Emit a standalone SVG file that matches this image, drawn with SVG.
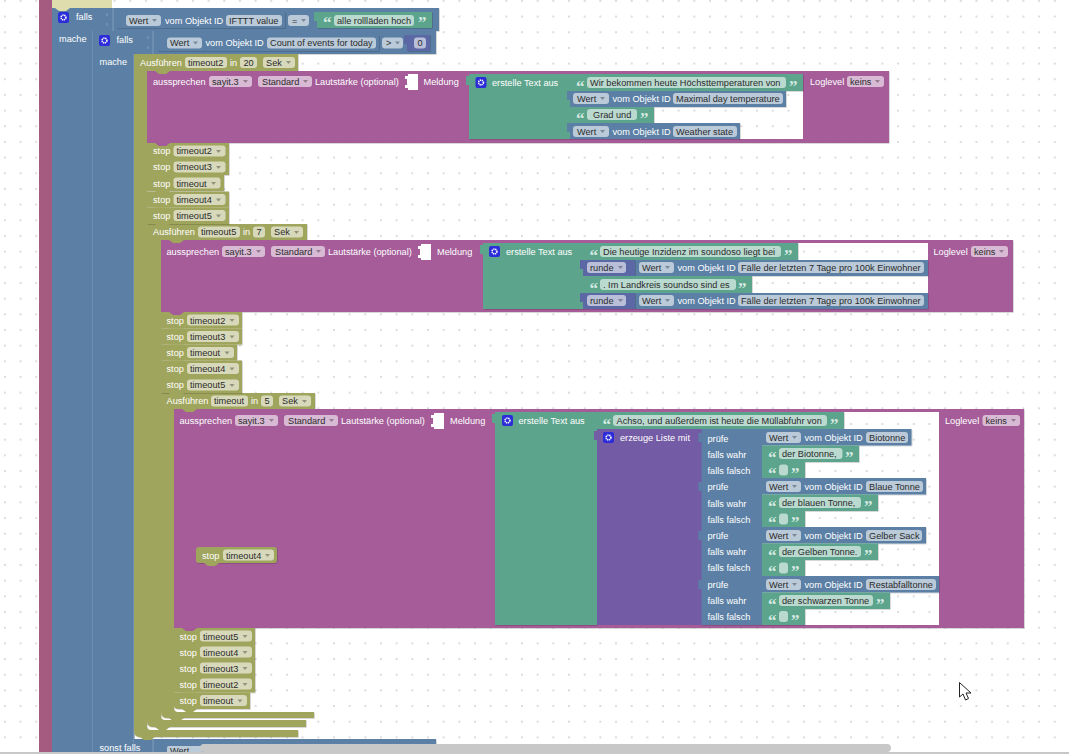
<svg xmlns="http://www.w3.org/2000/svg" width="1069" height="754" viewBox="0 0 1069 754">
<style>
text{font-family:"Liberation Sans",Arial,sans-serif;font-size:9.2px}
.t{fill:#fff}
.d{fill:#2b2b2b}
.q{font-family:"Liberation Serif",serif;font-size:17px;font-weight:bold;fill:#d6e9e2}
.f{fill:#fff;fill-opacity:.58}
.bl{fill:#5b80a5;filter:url(#e)}
.gr{fill:#5ba58c;filter:url(#e)}
.ol{fill:#9fa55b;filter:url(#e)}
.pk{fill:#a55b99;filter:url(#e)}
.nu{fill:#5b67a5;filter:url(#e)}
.li{fill:#745ba5}
.ln{stroke:#7f9dbc;stroke-width:1;fill:none}
.ar{fill:#000;fill-opacity:.32}
.ic{fill:#2c2cd8}
.gc{fill:none;stroke:#fff;stroke-width:1.6;stroke-dasharray:1.2 .6}
</style>
<defs>
<pattern id="g" x="3.9" y="-.1" width="15.67" height="15.67" patternUnits="userSpaceOnUse"><rect width="2" height="2" fill="#dcdcdc"/></pattern>
<filter id="e" x="-2%" y="-5%" width="104%" height="110%"><feDropShadow dx=".7" dy=".7" stdDeviation="0" flood-color="#000" flood-opacity=".22"/></filter>
<path id="a" d="M0 0h5l-2.500 3z"/>
<path id="n" d="M0 0l4 3h7l4-3z"/>
<path id="s" d="M0 2h-3v9h3z"/>
<g id="i"><rect class="ic" width="11" height="11" rx="2"/><circle class="gc" cx="5.500" cy="5.500" r="2.400"/></g>
</defs>
<rect width="1069" height="754" fill="#fff"/>
<rect width="1069" height="754" fill="url(#g)"/>
<g id="connectors"/>
<g id="frame">
<rect x="39" y="0" width="13" height="754" fill="#a55b80"/>
<path d="M52 0h60v8H52z" fill="#dfdcae"/>
</g>

<g id="falls-1">
<path class="bl" d="M52 8H439V31H93V754H52z"/>
<path class="ln" d="M93 31V754M113 8V31M107 13v3M107 23v3"/>
<use href="#i" x="58" y="12"/>
<text class="t" x="76" y="20">falls</text>
<text class="t" x="59" y="42">mache</text>
<rect class="bl" x="117" y="12" width="168" height="16"/>
<rect class="f" x="126" y="15" width="35" height="11" rx="3"/><text class="d" x="129" y="23.500">Wert</text><use href="#a" x="152" y="19" class="ar"/>
<text class="t" x="165" y="23.500">vom Objekt ID</text>
<rect class="f" x="226" y="15" width="56" height="11" rx="3"/><text class="d" x="229" y="23.500">IFTTT value</text>
<rect class="f" x="288" y="15" width="21" height="11" rx="3"/><text class="d" x="292" y="23.500">=</text><use href="#a" x="301" y="19" class="ar"/>
<rect class="gr" x="317" y="12" width="115" height="16"/><use href="#s" x="317" y="10" fill="#5ba58c"/>
<text class="q" x="323" y="28">“</text><rect class="f" x="334" y="15" width="80" height="11" rx="3"/><text class="d" x="337" y="23.500">alle rollläden hoch</text><text class="q" x="418" y="28">”</text>
</g>

<g id="falls-2">
<path class="bl" d="M93 31H436V54H134V754H93z"/>
<path class="ln" d="M134 54V754M153 31V54M148 36v3M148 46v3"/>
<use href="#i" x="99" y="35"/>
<text class="t" x="116.500" y="43">falls</text>
<text class="t" x="99.500" y="65">mache</text>
<rect class="bl" x="158" y="35" width="221" height="16"/>
<rect class="f" x="167" y="37.500" width="35" height="11" rx="3"/><text class="d" x="170" y="46">Wert</text><use href="#a" x="193" y="41.500" class="ar"/>
<text class="t" x="205.500" y="46">vom Objekt ID</text>
<rect class="f" x="267" y="37.500" width="109" height="11" rx="3"/><text class="d" x="270" y="46">Count of events for today</text>
<rect class="f" x="382" y="37.500" width="21" height="11" rx="3"/><text class="d" x="386" y="46">&gt;</text><use href="#a" x="395" y="41.500" class="ar"/>
<rect class="nu" x="407" y="35" width="23" height="16"/><use href="#s" x="407" y="33" fill="#5b67a5"/>
<rect class="f" x="414" y="37.500" width="12" height="11" rx="3"/><text class="d" x="417.500" y="46">0</text>
</g>

<g id="sonst-falls">
<rect class="bl" x="134" y="739" width="302" height="15"/>
<path class="ln" d="M153 739V754"/>
<text class="t" x="99.500" y="751">sonst falls</text>
<rect class="bl" x="163" y="744" width="240" height="10"/>
<rect class="f" x="167" y="746" width="35" height="8" rx="2"/><text class="d" x="170" y="754">Wert</text>
</g>

<g id="timeout2-run">
<path class="ol" d="M134 54H298V71H147V726Q147 730 151 730H298V737H140Q134 737 134 731z"/>
<text class="t" x="140" y="66">Ausführen</text>
<rect class="f" x="185" y="57" width="42" height="11" rx="3"/><text class="d" x="188" y="65.500">timeout2</text>
<text class="t" x="230" y="66">in</text>
<rect class="f" x="240" y="57" width="17" height="11" rx="3"/><text class="d" x="243.500" y="65.500">20</text>
<rect class="f" x="263" y="57" width="32" height="11" rx="3"/><text class="d" x="266" y="65.500">Sek</text><use href="#a" x="286" y="61" class="ar"/>
</g>

<g id="timeout5-run">
<path class="ol" d="M147 224H307V240H161V716Q161 720 165 720H306V727H153Q147 727 147 721z"/>
<text class="t" x="153" y="235">Ausführen</text>
<rect class="f" x="198" y="226.500" width="42" height="11" rx="3"/><text class="d" x="201" y="235">timeout5</text>
<text class="t" x="243" y="235">in</text>
<rect class="f" x="253" y="226.500" width="12" height="11" rx="3"/><text class="d" x="256.500" y="235">7</text>
<rect class="f" x="271" y="226.500" width="32" height="11" rx="3"/><text class="d" x="274" y="235">Sek</text><use href="#a" x="294" y="231" class="ar"/>
</g>

<g id="timeout-run">
<path class="ol" d="M161 393H315V409H174V708Q174 712 178 712H314V718H167Q161 718 161 712z"/>
<text class="t" x="166.500" y="404">Ausführen</text>
<rect class="f" x="211" y="395.500" width="37" height="11" rx="3"/><text class="d" x="214" y="404">timeout</text>
<text class="t" x="251" y="404">in</text>
<rect class="f" x="261" y="395.500" width="12" height="11" rx="3"/><text class="d" x="264.500" y="404">5</text>
<rect class="f" x="279" y="395.500" width="32" height="11" rx="3"/><text class="d" x="282" y="404">Sek</text><use href="#a" x="302" y="400" class="ar"/>
</g>

<g id="say-1">
<rect class="pk" x="147" y="71" width="742" height="72"/>
<text class="t" x="153" y="85">aussprechen</text>
<rect class="f" x="209" y="76" width="43" height="11" rx="3"/><text class="d" x="212" y="85">sayit.3</text><use href="#a" x="243" y="80" class="ar"/>
<rect class="f" x="258" y="76" width="54" height="11" rx="3"/><text class="d" x="262" y="85">Standard</text><use href="#a" x="303" y="80" class="ar"/>
<text class="t" x="315" y="85">Lautstärke (optional)</text>
<path d="M405 76h3v-2h10v16h-10v-2h-3v-3h2v-6h-2z" fill="#fff"/>
<text class="t" x="423.500" y="85">Meldung</text>
<rect x="570" y="74" width="233" height="65" fill="#fff"/>
<rect x="570" y="74" width="233" height="65" fill="url(#g)"/>
<text class="t" x="810" y="85">Loglevel</text>
<rect class="f" x="847" y="76" width="37" height="11" rx="3"/><text class="d" x="850" y="85">keins</text><use href="#a" x="875" y="80" class="ar"/>
</g>
<g id="text-1">
<rect class="gr" x="469" y="74" width="101" height="65"/><use href="#s" x="469" y="74" fill="#5ba58c"/>
<use href="#i" x="475.500" y="77"/>
<text class="t" x="492" y="86">erstelle Text aus</text>
<rect class="gr" x="570" y="74" width="233" height="17"/>
<text class="q" x="576" y="92">“</text><rect class="f" x="587" y="77" width="199" height="11" rx="3"/><text class="d" x="590" y="86">Wir bekommen heute Höchsttemperaturen von</text><text class="q" x="789" y="92">”</text>
<rect class="bl" x="570" y="91" width="216" height="16"/><use href="#s" x="570" y="89" fill="#5b80a5"/>
<rect class="f" x="573" y="93" width="36" height="11" rx="3"/><text class="d" x="577" y="102">Wert</text><use href="#a" x="600" y="97" class="ar"/>
<text class="t" x="612.500" y="102">vom Objekt ID</text>
<rect class="f" x="673" y="93" width="110" height="11" rx="3"/><text class="d" x="676" y="102">Maximal day temperature</text>
<rect class="gr" x="570" y="107" width="84" height="16"/>
<text class="q" x="576" y="124">“</text><rect class="f" x="587" y="109" width="50" height="11" rx="3"/><text class="d" x="593" y="118">Grad und</text><text class="q" x="640" y="124">”</text>
<rect class="bl" x="570" y="123" width="170" height="16"/><use href="#s" x="570" y="121" fill="#5b80a5"/>
<rect class="f" x="573" y="126" width="36" height="11" rx="3"/><text class="d" x="577" y="135">Wert</text><use href="#a" x="600" y="130" class="ar"/>
<text class="t" x="612.500" y="135">vom Objekt ID</text>
<rect class="f" x="673" y="126" width="64" height="11" rx="3"/><text class="d" x="676" y="135">Weather state</text>
</g>

<g id="stops-1">
<rect id="s1a" class="ol" x="147" y="143" width="82" height="16"/><text class="t" x="153" y="154">stop</text><rect class="f" x="173.500" y="145.500" width="52" height="11" rx="3"/><text class="d" x="176.500" y="154">timeout2</text><use href="#a" x="216" y="150" class="ar"/>
<rect id="s1b" class="ol" x="147" y="159" width="82" height="16"/><text class="t" x="153" y="170">stop</text><rect class="f" x="173.500" y="161.500" width="52" height="11" rx="3"/><text class="d" x="176.500" y="170">timeout3</text><use href="#a" x="216" y="166" class="ar"/>
<rect id="s1c" class="ol" x="147" y="175" width="77" height="16"/><text class="t" x="153" y="186.500">stop</text><rect class="f" x="173.500" y="177.500" width="47" height="11" rx="3"/><text class="d" x="176.500" y="186.500">timeout</text><use href="#a" x="211" y="182" class="ar"/>
<rect id="s1d" class="ol" x="147" y="191.500" width="82" height="16"/><text class="t" x="153" y="203">stop</text><rect class="f" x="173.500" y="194" width="52" height="11" rx="3"/><text class="d" x="176.500" y="203">timeout4</text><use href="#a" x="216" y="198.500" class="ar"/>
<rect id="s1e" class="ol" x="147" y="207.500" width="82" height="16.500"/><text class="t" x="153" y="219">stop</text><rect class="f" x="173.500" y="210" width="52" height="11" rx="3"/><text class="d" x="176.500" y="219">timeout5</text><use href="#a" x="216" y="214.500" class="ar"/>
</g>

<g id="say-2">
<rect class="pk" x="161" y="240" width="852" height="72"/>
<text class="t" x="166.500" y="255">aussprechen</text>
<rect class="f" x="222" y="246" width="43" height="11" rx="3"/><text class="d" x="225" y="255">sayit.3</text><use href="#a" x="256" y="250" class="ar"/>
<rect class="f" x="271" y="246" width="54" height="11" rx="3"/><text class="d" x="275" y="255">Standard</text><use href="#a" x="316" y="250" class="ar"/>
<text class="t" x="328" y="255">Lautstärke (optional)</text>
<path d="M418 246h3v-2h10v16h-10v-2h-3v-3h2v-6h-2z" fill="#fff"/>
<text class="t" x="437" y="255">Meldung</text>
<rect x="582" y="243" width="346" height="66" fill="#fff"/>
<rect x="582" y="243" width="346" height="66" fill="url(#g)"/>
<text class="t" x="933.500" y="255">Loglevel</text>
<rect class="f" x="971" y="246" width="37" height="11" rx="3"/><text class="d" x="974" y="255">keins</text><use href="#a" x="999" y="250" class="ar"/>
</g>
<g id="text-2">
<rect class="gr" x="483" y="243" width="100" height="66"/><use href="#s" x="483" y="243" fill="#5ba58c"/>
<use href="#i" x="489" y="246"/>
<text class="t" x="506" y="255">erstelle Text aus</text>
<rect class="gr" x="583" y="243" width="215" height="17"/>
<text class="q" x="589.500" y="261">“</text><rect class="f" x="600" y="246" width="181" height="11" rx="3"/><text class="d" x="603" y="255">Die heutige Inzidenz im soundoso liegt bei</text><text class="q" x="784" y="261">”</text>
<rect class="bl" x="635" y="260" width="293" height="16"/>
<rect class="nu" x="583" y="260" width="52" height="16"/><use href="#s" x="583" y="258" fill="#5b67a5"/>
<rect class="f" x="587" y="262" width="39" height="11" rx="3"/><text class="d" x="590" y="271">runde</text><use href="#a" x="618" y="266" class="ar"/>
<rect class="f" x="639" y="262" width="35" height="11" rx="3"/><text class="d" x="642" y="271">Wert</text><use href="#a" x="665" y="266" class="ar"/>
<text class="t" x="677.500" y="271">vom Objekt ID</text>
<rect class="f" x="738" y="262" width="186" height="11" rx="3"/><text class="d" x="741" y="271">Fälle der letzten 7 Tage pro 100k Einwohner</text>
<rect class="gr" x="583" y="276" width="169" height="17"/>
<text class="q" x="589.500" y="294">“</text><rect class="f" x="600" y="279" width="136" height="11" rx="3"/><text class="d" x="603" y="288">. Im Landkreis soundso sind es</text><text class="q" x="738" y="294">”</text>
<rect class="bl" x="635" y="293" width="293" height="16"/>
<rect class="nu" x="583" y="293" width="52" height="16"/><use href="#s" x="583" y="291" fill="#5b67a5"/>
<rect class="f" x="587" y="295" width="39" height="11" rx="3"/><text class="d" x="590" y="304">runde</text><use href="#a" x="618" y="299" class="ar"/>
<rect class="f" x="639" y="295" width="35" height="11" rx="3"/><text class="d" x="642" y="304">Wert</text><use href="#a" x="665" y="299" class="ar"/>
<text class="t" x="677.500" y="304">vom Objekt ID</text>
<rect class="f" x="738" y="295" width="186" height="11" rx="3"/><text class="d" x="741" y="304">Fälle der letzten 7 Tage pro 100k Einwohner</text>
</g>

<g id="stops-2">
<rect class="ol" x="161" y="312" width="81" height="16.500"/><text class="t" x="166.500" y="323.500">stop</text><rect class="f" x="187" y="314.500" width="52" height="11" rx="3"/><text class="d" x="190" y="323.500">timeout2</text><use href="#a" x="229.500" y="319" class="ar"/>
<rect class="ol" x="161" y="328.500" width="81" height="16"/><text class="t" x="166.500" y="340">stop</text><rect class="f" x="187" y="331" width="52" height="11" rx="3"/><text class="d" x="190" y="340">timeout3</text><use href="#a" x="229.500" y="335.500" class="ar"/>
<rect class="ol" x="161" y="344.500" width="76" height="16"/><text class="t" x="166.500" y="356">stop</text><rect class="f" x="187" y="347" width="47" height="11" rx="3"/><text class="d" x="190" y="356">timeout</text><use href="#a" x="224.500" y="351.500" class="ar"/>
<rect class="ol" x="161" y="360.500" width="81" height="16.500"/><text class="t" x="166.500" y="372">stop</text><rect class="f" x="187" y="363" width="52" height="11" rx="3"/><text class="d" x="190" y="372">timeout4</text><use href="#a" x="229.500" y="367.500" class="ar"/>
<rect class="ol" x="161" y="377" width="81" height="16"/><text class="t" x="166.500" y="388">stop</text><rect class="f" x="187" y="379.500" width="52" height="11" rx="3"/><text class="d" x="190" y="388">timeout5</text><use href="#a" x="229.500" y="384" class="ar"/>
</g>

<g id="say-3">
<path class="pk" d="M174 409H1024V628H174z"/>
<text class="t" x="179.500" y="424">aussprechen</text>
<rect class="f" x="235" y="415" width="43" height="11" rx="3"/><text class="d" x="238" y="424">sayit.3</text><use href="#a" x="269" y="419" class="ar"/>
<rect class="f" x="284" y="415" width="54" height="11" rx="3"/><text class="d" x="288" y="424">Standard</text><use href="#a" x="329" y="419" class="ar"/>
<text class="t" x="341" y="424">Lautstärke (optional)</text>
<path d="M431 415h3v-2h10v16h-10v-2h-3v-3h2v-6h-2z" fill="#fff"/>
<text class="t" x="450" y="424">Meldung</text>
<rect x="597" y="412" width="342" height="213" fill="#fff"/>
<rect x="597" y="412" width="342" height="213" fill="url(#g)"/>
<text class="t" x="945" y="424">Loglevel</text>
<rect class="f" x="982.500" y="415" width="37.500" height="11" rx="3"/><text class="d" x="985.500" y="424">keins</text><use href="#a" x="1011" y="419" class="ar"/>
</g>
<g id="text-3">
<rect class="gr" x="495" y="412" width="102" height="213"/><use href="#s" x="495" y="412" fill="#5ba58c"/>
<use href="#i" x="502" y="415"/>
<text class="t" x="518.500" y="424">erstelle Text aus</text>
<rect class="gr" x="597" y="412" width="247" height="17"/>
<text class="q" x="602.500" y="430">“</text><rect class="f" x="613" y="415" width="214" height="11" rx="3"/><text class="d" x="616.500" y="424">Achso, und außerdem ist heute die Müllabfuhr von</text><text class="q" x="830" y="430">”</text>
</g>
<g id="list-1">
<rect class="li" x="597" y="429" width="105" height="196"/><use href="#s" x="597" y="429" fill="#745ba5"/>
<use href="#i" x="603" y="432"/>
<text class="t" x="620" y="441">erzeuge Liste mit</text>
</g>
<g id="ternary-1">
<rect class="bl" x="701.500" y="429" width="60.500" height="49"/><use href="#s" x="701.500" y="431" fill="#5b80a5"/>
<text class="t" x="707.500" y="441.500">prüfe</text><text class="t" x="707.500" y="457.500">falls wahr</text><text class="t" x="707.500" y="474">falls falsch</text>
<rect class="bl" x="762" y="429" width="149.500" height="16.500"/>
<rect class="f" x="766" y="432" width="35" height="11" rx="3"/><text class="d" x="769" y="441">Wert</text><use href="#a" x="792" y="436" class="ar"/>
<text class="t" x="804.500" y="441">vom Objekt ID</text>
<rect class="f" x="866" y="432" width="42" height="11" rx="3"/><text class="d" x="869" y="441">Biotonne</text>
<rect class="gr" x="762" y="445.500" width="97" height="16.500"/>
<text class="q" x="768" y="463">“</text><rect class="f" x="779" y="448" width="63.500" height="11" rx="3"/><text class="d" x="782" y="457">der Biotonne,</text><text class="q" x="845" y="463">”</text>
<rect class="gr" x="762" y="462" width="43" height="16"/>
<text class="q" x="768" y="479">“</text><rect class="f" x="779" y="464.500" width="9" height="11" rx="3"/><text class="q" x="791" y="479">”</text>
</g>
<g id="ternary-2">
<rect class="bl" x="701.500" y="478" width="60.500" height="49"/><use href="#s" x="701.500" y="480" fill="#5b80a5"/>
<text class="t" x="707.500" y="490">prüfe</text><text class="t" x="707.500" y="506.500">falls wahr</text><text class="t" x="707.500" y="522.500">falls falsch</text>
<rect class="bl" x="762" y="478" width="164" height="16.500"/>
<rect class="f" x="766" y="481" width="35" height="11" rx="3"/><text class="d" x="769" y="490">Wert</text><use href="#a" x="792" y="485" class="ar"/>
<text class="t" x="804.500" y="490">vom Objekt ID</text>
<rect class="f" x="866" y="481" width="57" height="11" rx="3"/><text class="d" x="869" y="490">Blaue Tonne</text>
<rect class="gr" x="762" y="494.500" width="116" height="16.500"/>
<text class="q" x="768" y="512">“</text><rect class="f" x="779" y="497" width="82" height="11" rx="3"/><text class="d" x="782" y="506">der blauen Tonne,</text><text class="q" x="864" y="512">”</text>
<rect class="gr" x="762" y="511" width="43" height="16"/>
<text class="q" x="768" y="528">“</text><rect class="f" x="779" y="513.500" width="9" height="11" rx="3"/><text class="q" x="791" y="528">”</text>
</g>
<g id="ternary-3">
<rect class="bl" x="701.500" y="527" width="60.500" height="49"/><use href="#s" x="701.500" y="529" fill="#5b80a5"/>
<text class="t" x="707.500" y="538.500">prüfe</text><text class="t" x="707.500" y="554.500">falls wahr</text><text class="t" x="707.500" y="571">falls falsch</text>
<rect class="bl" x="762" y="527" width="164" height="16.500"/>
<rect class="f" x="766" y="530" width="35" height="11" rx="3"/><text class="d" x="769" y="538.500">Wert</text><use href="#a" x="792" y="534" class="ar"/>
<text class="t" x="804.500" y="538.500">vom Objekt ID</text>
<rect class="f" x="866" y="530" width="56" height="11" rx="3"/><text class="d" x="869" y="538.500">Gelber Sack</text>
<rect class="gr" x="762" y="543.500" width="116" height="16.500"/>
<text class="q" x="768" y="561">“</text><rect class="f" x="779" y="546" width="82" height="11" rx="3"/><text class="d" x="782" y="554.500">der Gelben Tonne.</text><text class="q" x="864" y="561">”</text>
<rect class="gr" x="762" y="560" width="43" height="16"/>
<text class="q" x="768" y="577">“</text><rect class="f" x="779" y="562.500" width="9" height="11" rx="3"/><text class="q" x="791" y="577">”</text>
</g>
<g id="ternary-4">
<rect class="bl" x="701.500" y="576" width="60.500" height="49"/><use href="#s" x="701.500" y="578" fill="#5b80a5"/>
<text class="t" x="707.500" y="587.500">prüfe</text><text class="t" x="707.500" y="603.500">falls wahr</text><text class="t" x="707.500" y="619.500">falls falsch</text>
<rect class="bl" x="762" y="576" width="177" height="16.500"/>
<rect class="f" x="766" y="579" width="35" height="11" rx="3"/><text class="d" x="769" y="587.500">Wert</text><use href="#a" x="792" y="583" class="ar"/>
<text class="t" x="804.500" y="587.500">vom Objekt ID</text>
<rect class="f" x="866" y="579" width="70" height="11" rx="3"/><text class="d" x="869" y="587.500">Restabfalltonne</text>
<rect class="gr" x="762" y="592.500" width="128" height="16.500"/>
<text class="q" x="768" y="610">“</text><rect class="f" x="779" y="595" width="94" height="11" rx="3"/><text class="d" x="782" y="603.500">der schwarzen Tonne</text><text class="q" x="876" y="610">”</text>
<rect class="gr" x="762" y="609" width="43" height="16"/>
<text class="q" x="768" y="626">“</text><rect class="f" x="779" y="611" width="9" height="11" rx="3"/><text class="q" x="791" y="626">”</text>
</g>

<g id="stop-loose">
<rect class="ol" x="196" y="547" width="81" height="16" rx="3"/>
<text class="t" x="202" y="558.500">stop</text><rect class="f" x="223" y="549.500" width="51" height="11" rx="3"/><text class="d" x="226" y="558.500">timeout4</text><use href="#a" x="265" y="554" class="ar"/>
</g>

<g id="stops-3">
<rect class="ol" x="174" y="628" width="81" height="16"/><text class="t" x="179.500" y="639.500">stop</text><rect class="f" x="200" y="630.500" width="52" height="11" rx="3"/><text class="d" x="203" y="639.500">timeout5</text><use href="#a" x="242.500" y="635" class="ar"/>
<rect class="ol" x="174" y="644" width="81" height="16"/><text class="t" x="179.500" y="655.500">stop</text><rect class="f" x="200" y="646.500" width="52" height="11" rx="3"/><text class="d" x="203" y="655.500">timeout4</text><use href="#a" x="242.500" y="651" class="ar"/>
<rect class="ol" x="174" y="660" width="81" height="16"/><text class="t" x="179.500" y="671.500">stop</text><rect class="f" x="200" y="662.500" width="52" height="11" rx="3"/><text class="d" x="203" y="671.500">timeout3</text><use href="#a" x="242.500" y="667" class="ar"/>
<rect class="ol" x="174" y="676" width="81" height="16.500"/><text class="t" x="179.500" y="688">stop</text><rect class="f" x="200" y="678.500" width="52" height="11" rx="3"/><text class="d" x="203" y="688">timeout2</text><use href="#a" x="242.500" y="683" class="ar"/>
<path class="ol" d="M174 692.500H250V709H178Q174 709 174 705z"/><text class="t" x="179.500" y="704">stop</text><rect class="f" x="200" y="695" width="47" height="11" rx="3"/><text class="d" x="203" y="704">timeout</text><use href="#a" x="237.500" y="699.500" class="ar"/>
</g>

<g id="notches">
<use href="#n" x="55" y="8" fill="#dfdcae"/>
<use href="#n" x="155" y="143" fill="#a55b99"/>
<use href="#n" x="155" y="159" fill="#9fa55b"/><use href="#n" x="155" y="175" fill="#9fa55b"/><use href="#n" x="155" y="191" fill="#9fa55b"/><use href="#n" x="155" y="207.500" fill="#9fa55b"/><use href="#n" x="155" y="224" fill="#9fa55b"/>
<use href="#n" x="169" y="312" fill="#a55b99"/>
<use href="#n" x="169" y="328.500" fill="#9fa55b"/><use href="#n" x="169" y="344.500" fill="#9fa55b"/><use href="#n" x="169" y="360.500" fill="#9fa55b"/><use href="#n" x="169" y="377" fill="#9fa55b"/><use href="#n" x="169" y="393" fill="#9fa55b"/>
<use href="#n" x="182" y="409" fill="#9fa55b"/>
<use href="#n" x="155" y="71" fill="#9fa55b"/><use href="#n" x="169" y="240" fill="#9fa55b"/>
<use href="#n" x="182" y="628" fill="#a55b99"/>
<use href="#n" x="182" y="644" fill="#9fa55b"/><use href="#n" x="182" y="660" fill="#9fa55b"/><use href="#n" x="182" y="676" fill="#9fa55b"/><use href="#n" x="182" y="692.500" fill="#9fa55b"/><use href="#n" x="182" y="709" fill="#9fa55b"/>
<use href="#n" x="169" y="718" fill="#9fa55b"/><use href="#n" x="155" y="727" fill="#9fa55b"/><use href="#n" x="140" y="737" fill="#9fa55b"/>
<use href="#n" x="204" y="563" fill="#9fa55b"/>
</g>

<g id="ui">
<rect x="200" y="744" width="691" height="8" rx="4" fill="#c8c8c8"/>
<rect x="0" y="752" width="1069" height="2" fill="#c8c8c8"/>
<path d="M959.500 682.500V697l3.500-3 2.500 6 3-1.500-2.500-5.500h5z" fill="#fff" stroke="#222" stroke-width="1"/>
</g>
</svg>
